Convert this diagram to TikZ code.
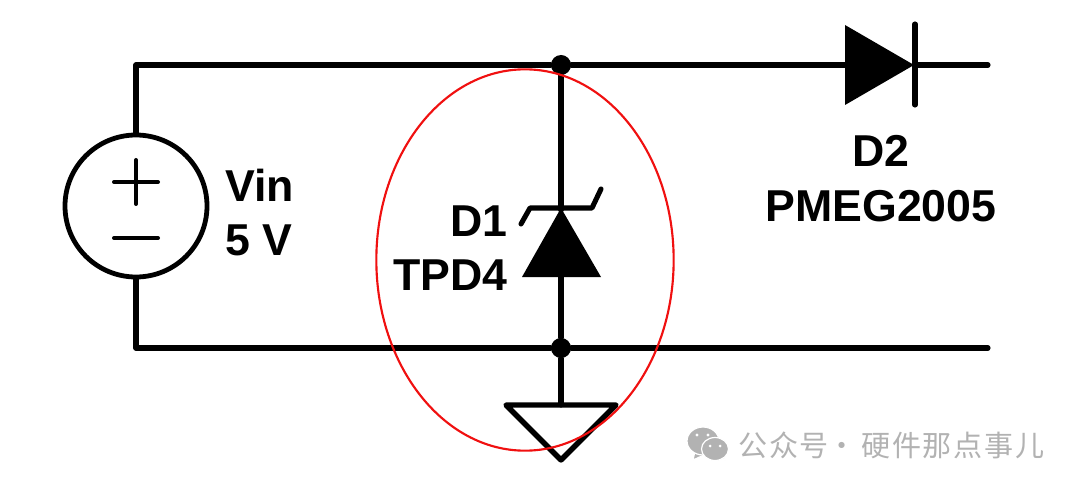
\documentclass[tikz,border=0pt]{standalone}
\usepackage{fontspec}
\usetikzlibrary{shapes.geometric}
\setmainfont{Liberation Sans}
\newfontfamily\cjkwm{Noto Sans CJK SC}
\definecolor{wmgray}{HTML}{B2B2B2}
\definecolor{ovalred}{HTML}{F01010}
\tikzset{
  wire/.style={line width=3.8pt,line cap=round,line join=round,black},
  dotnode/.style={circle,fill=black,inner sep=0pt,minimum size=15pt},
  lab/.style={font=\fontsize{33.5}{38}\selectfont\bfseries,inner sep=0pt,black},
  wm/.style={font=\fontsize{21.8}{24}\cjkwm,text=wmgray,inner sep=0pt},
  wmbub/.style={fill=wmgray,draw=white,line width=0.9pt},
}
\begin{document}
\begin{tikzpicture}[x=0.75pt,y=-0.75pt]
\useasboundingbox (0,0) rectangle (1080,488);
% junctions and free ends
\coordinate (tl) at (136,65);
\coordinate (bl) at (136,348);
\coordinate (tr) at (988,65);
\coordinate (br) at (988,348);
\node[dotnode] (j1) at (561,65) {};
\node[dotnode] (j2) at (561,348) {};
\coordinate (zk) at (561,210);
\coordinate (za) at (561,277);
\coordinate (gt) at (561,405);
\coordinate (da) at (846,65);
\coordinate (dk) at (915,65);
% source
\node[circle,draw=black,line width=3.6pt,minimum size=106.5pt,inner sep=0pt] (vs) at (136,206) {};
\draw[line width=3pt,line cap=round] (114,182)--(158,182) (136,160)--(136,204);
\draw[line width=3pt,line cap=round] (114,238)--(158,238);
% wires
\draw[wire] (vs.north) -- (tl) -- (j1) -- (da);
\draw[wire] (vs.south) -- (bl) -- (j2) -- (br);
\draw[wire] (dk) -- (tr);
\draw[wire] (j1) -- (zk);
\draw[wire] (za) -- (j2);
\draw[wire] (j2) -- (gt);
% D1 zener
\fill[black] (561,208) -- (601,277) -- (522,277) -- cycle;
\draw[line width=3.8pt,line cap=round,line join=round] (521,224) -- (530,208) -- (592,208) -- (601,189);
% D2
\fill[black] (845,25) -- (914,65) -- (845,105) -- cycle;
\draw[line width=3.8pt,line cap=round] (915,24) -- (915,105);
% ground
\draw[line width=4pt,line join=round] (506,405) -- (616,405) -- (561,460) -- cycle;
% labels
\node[lab,anchor=east] (d1) at (508,221) {D1};
\node[lab,anchor=east] (tpd) at (508,275) {TPD4};
\node[lab,anchor=west] (vin) at (225,185) {Vin};
\node[lab,anchor=west] (vv) at (225,240) {5 V};
\node[lab] (d2) at (881,151) {D2};
\node[lab] (pm) at (881,206) {PMEG2005};
% red ellipse
\node[ellipse,draw=ovalred,line width=1.6pt,minimum width=223pt,minimum height=286pt,inner sep=0pt] (oval) at (525,260) {};
% watermark
\fill[wmbub] (695,451) -- (693,460) -- (704,455) -- cycle;
\fill[wmbub] (703,441) ellipse [x radius=16,y radius=14];
\fill[wmbub] (723,457) -- (725,460) -- (717,458) -- cycle;
\fill[wmbub] (715,449) ellipse [x radius=13.5,y radius=11.5];
\fill[white] (697,435) circle (1.7) (708,435) circle (1.7) (710,446) circle (1.5) (720,446) circle (1.5);
\node[wm,anchor=west] (wmA) at (738,445) {\addfontfeature{LetterSpace=6}公众号};
\node[wm] (wmdot) at (842,449) {·};
\node[wm,anchor=west] (wmB) at (861,445) {\addfontfeature{LetterSpace=6}硬件那点事儿};
\end{tikzpicture}
\end{document}
